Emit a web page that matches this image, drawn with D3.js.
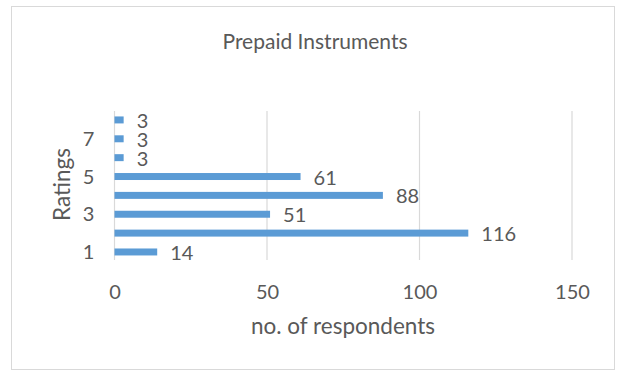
<!DOCTYPE html>
<html>
<head>
<meta charset="utf-8">
<script src="https://cdn.jsdelivr.net/npm/d3@7"></script>
<style>
  html, body { margin: 0; padding: 0; background: #fff; }
  svg { display: block; }
  text { font-family: Lato, "Open Sans", sans-serif; fill: #595959; }
</style>
</head>
<body>
<script>
// Ratings (1 = bottom) and number of respondents for each rating
const ratings = [1, 2, 3, 4, 5, 6, 7, 8];
const respondents = [14, 116, 51, 88, 61, 3, 3, 3];
const xTicks = [0, 50, 100, 150];
const yTickLabels = [1, 3, 5, 7];
const chartTitle = "Prepaid Instruments";
const xTitle = "no. of respondents";
const yTitle = "Ratings";

const W = 617, H = 372;
const plot = { left: 114.5, right: 572, top: 111, bottom: 260 };
const FONT = "Lato, 'Open Sans', sans-serif";

const svg = d3.select("body").append("svg")
  .attr("width", W).attr("height", H);

// chart frame
svg.append("rect")
  .attr("x", 11.5).attr("y", 6.5)
  .attr("width", 603).attr("height", 363)
  .attr("fill", "#fff").attr("stroke", "#d9d9d9").attr("stroke-width", 1);

const x = d3.scaleLinear().domain([0, 150]).range([plot.left, plot.right]);
const y = d3.scaleBand().domain(ratings)
  .range([261.4, 110.5])
  .paddingInner(0.63).paddingOuter(0.315);

// vertical gridlines
svg.append("g").selectAll("line").data(xTicks).join("line")
  .attr("x1", d => x(d)).attr("x2", d => x(d))
  .attr("y1", plot.top).attr("y2", plot.bottom)
  .attr("stroke", "#d9d9d9").attr("stroke-width", 1.2);

// x axis labels
const xAxis = d3.axisBottom(x).tickValues(xTicks).tickSize(0).tickPadding(0);
const gx = svg.append("g").attr("transform", `translate(0,${plot.bottom})`).call(xAxis);
gx.select(".domain").remove();
gx.selectAll("text")
  .attr("dy", null).attr("y", 39)
  .style("font-size", "20px").style("fill", "#595959")
  .style("font-family", FONT);

// y axis labels (odd ratings only)
const yAxis = d3.axisLeft(y).tickValues(yTickLabels).tickSize(0).tickPadding(0);
const gy = svg.append("g").attr("transform", `translate(${plot.left},0)`).call(yAxis);
gy.select(".domain").remove();
gy.selectAll("text")
  .attr("x", -26).attr("dy", "0.35em")
  .style("text-anchor", "middle")
  .style("font-size", "20px").style("fill", "#595959")
  .style("font-family", FONT);

// bars
svg.append("g").selectAll("rect").data(ratings).join("rect")
  .attr("x", x(0))
  .attr("y", d => y(d))
  .attr("width", (d, i) => x(respondents[i]) - x(0))
  .attr("height", y.bandwidth())
  .attr("fill", "#5b9bd5");

// value labels
svg.append("g").selectAll("text").data(ratings).join("text")
  .attr("x", (d, i) => x(respondents[i]) + 13)
  .attr("y", d => y(d) + y.bandwidth() / 2 + 1)
  .attr("dy", "0.35em")
  .style("font-size", "20px")
  .text((d, i) => respondents[i]);

// titles
svg.append("text")
  .attr("x", 315).attr("y", 49)
  .attr("text-anchor", "middle")
  .style("font-size", "21px")
  .text(chartTitle);

svg.append("text")
  .attr("x", 343).attr("y", 334)
  .attr("text-anchor", "middle")
  .style("font-size", "22.5px")
  .text(xTitle);

svg.append("text")
  .attr("transform", `translate(70,${(plot.top + plot.bottom) / 2 - 1}) rotate(-90)`)
  .attr("text-anchor", "middle")
  .style("font-size", "22.5px")
  .text(yTitle);
</script>
</body>
</html>
